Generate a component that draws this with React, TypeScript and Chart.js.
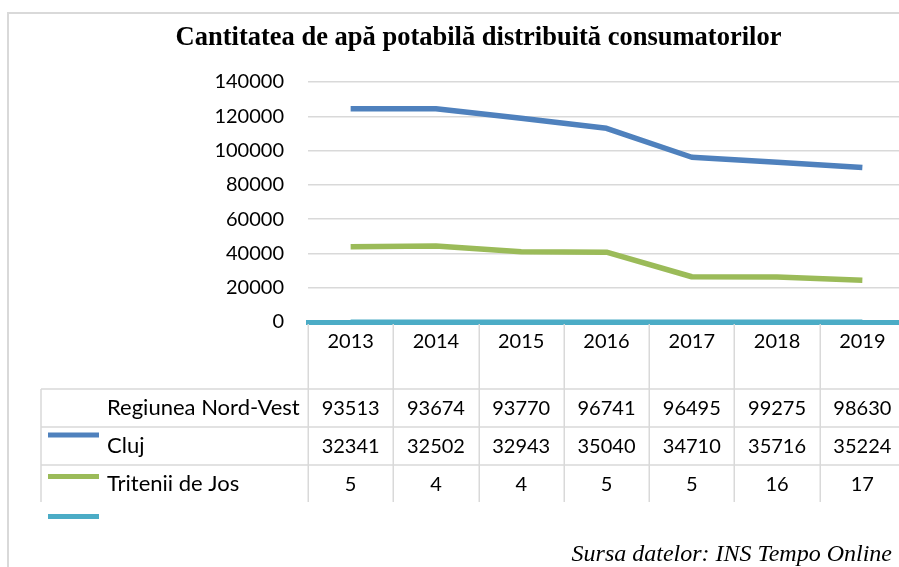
import { useEffect, useRef } from "react";
import { Chart, registerables } from "chart.js";

Chart.register(...registerables);

const chartTitle = "Cantitatea de apă potabilă distribuită consumatorilor";
const sourceNote = "Sursa datelor: INS Tempo Online";
const years = ["2013", "2014", "2015", "2016", "2017", "2018", "2019"];
const yMin = 0;
const yMax = 140000;
const yStep = 20000;

// lines as drawn in the picture
const blueLine = [124400, 124400, 118800, 113000, 96100, 93200, 90100];
const greenLine = [43900, 44300, 41000, 40700, 26400, 26300, 24300];

// data table values
const rowLabels = ["Regiunea Nord-Vest", "Cluj", "Tritenii de Jos"];
const tableNordVest = [93513, 93674, 93770, 96741, 96495, 99275, 98630];
const tableCluj = [32341, 32502, 32943, 35040, 34710, 35716, 35224];
const tableTritenii = [5, 4, 4, 5, 5, 16, 17];
const tableRows = [tableNordVest, tableCluj, tableTritenii];

const BLUE = "#4F81BD";
const GREEN = "#9BBB59";
const TEAL = "#4BACC6";
const GRID = "#d9d9d9";

const tablePlugin = {
  id: "dataTable",
  afterDraw(chart: any) {
    const { ctx, chartArea } = chart;
    const xs = chart.scales.x;
    const n = years.length;
    const colW = (chartArea.right - chartArea.left) / n;
    const base = chartArea.bottom;
    const rowTop = base + 67;
    const rowH = 38;
    const tableBottom = base + 180;
    const W = chart.width;

    ctx.save();
    // outer chart border
    ctx.strokeStyle = GRID;
    ctx.lineWidth = 2;
    ctx.beginPath();
    ctx.moveTo(8, chart.height);
    ctx.lineTo(8, 13);
    ctx.lineTo(W, 13);
    ctx.stroke();

    // table grid
    ctx.lineWidth = 1.5;
    ctx.beginPath();
    for (let i = 0; i <= n; i++) {
      const px = Math.round(chartArea.left + i * colW) + 0.25;
      ctx.moveTo(px, base + 2);
      ctx.lineTo(px, tableBottom);
    }
    ctx.moveTo(41, rowTop);
    ctx.lineTo(41, tableBottom);
    for (let r = 0; r < 3; r++) {
      const py = rowTop + r * rowH;
      ctx.moveTo(41, py);
      ctx.lineTo(W, py);
    }
    ctx.stroke();

    // category labels
    ctx.fillStyle = "#000";
    ctx.font = "20px Lato";
    ctx.textAlign = "center";
    ctx.textBaseline = "alphabetic";
    years.forEach((y, i) => {
      ctx.fillText(y, xs.getPixelForValue(i), base + 26);
    });

    // rows
    tableRows.forEach((row, r) => {
      const cy = rowTop + r * rowH + 18 + 7.5;
      ctx.textAlign = "left";
      ctx.font = "22px Lato";
      ctx.fillText(rowLabels[r], 107, cy);
      ctx.textAlign = "center";
      ctx.font = "20px Lato";
      row.forEach((v, i) => {
        ctx.fillText(String(v), xs.getPixelForValue(i), cy);
      });
    });

    // legend keys
    const keys = [
      { c: BLUE, y: base + 113 },
      { c: GREEN, y: base + 154.5 },
      { c: TEAL, y: base + 194.5 },
    ];
    keys.forEach((k) => {
      ctx.fillStyle = k.c;
      ctx.fillRect(48, k.y - 2.5, 51, 5);
    });

    // source note
    ctx.fillStyle = "#000";
    ctx.font = "italic 24px 'Liberation Serif'";
    ctx.textAlign = "right";
    ctx.fillText(sourceNote, 892, 561);
    ctx.restore();
  },
};

export default function App() {
  const canvasRef = useRef<HTMLCanvasElement | null>(null);

  useEffect(() => {
    const canvas = canvasRef.current;
    if (!canvas) return;
    const chart = new Chart(canvas, {
      type: "line",
      data: {
        labels: years,
        datasets: [
          {
            label: rowLabels[0],
            data: blueLine,
            borderColor: BLUE,
            backgroundColor: BLUE,
            borderWidth: 5.5,
            pointRadius: 0,
            borderJoinStyle: "round",
            tension: 0,
          },
          {
            label: rowLabels[1],
            data: greenLine,
            borderColor: GREEN,
            backgroundColor: GREEN,
            borderWidth: 5.5,
            pointRadius: 0,
            borderJoinStyle: "round",
            tension: 0,
          },
          {
            label: rowLabels[2],
            data: tableTritenii,
            borderColor: TEAL,
            backgroundColor: TEAL,
            borderWidth: 5,
            pointRadius: 0,
            tension: 0,
          },
        ],
      },
      options: {
        responsive: false,
        animation: false,
        devicePixelRatio: 1,
        layout: { padding: { top: 12, left: 52, right: 5, bottom: 245 } },
        plugins: {
          legend: { display: false },
          tooltip: { enabled: false },
          title: {
            display: true,
            text: chartTitle,
            color: "#000",
            font: { family: "'Liberation Serif'", size: 26.5, weight: "bold" },
            padding: { top: 10.5, bottom: 27.7 },
          },
        },
        scales: {
          x: {
            type: "category",
            offset: true,
            grid: { display: false, drawTicks: false },
            ticks: { display: false },
            border: { display: true, color: TEAL, width: 5 },
          },
          y: {
            min: yMin,
            max: yMax,
            afterFit: (scale: any) => {
              scale.width = 256;
            },
            ticks: {
              stepSize: yStep,
              padding: 24,
              color: "#000",
              font: { family: "Lato", size: 20 },
              callback: (v: any) => String(v),
            },
            grid: { color: GRID, lineWidth: 1.5, drawTicks: false },
            border: { display: false },
          },
        },
      },
      plugins: [tablePlugin],
    });
    return () => chart.destroy();
  }, []);

  return (
    <div
      style={{
        position: "absolute",
        left: 0,
        top: 0,
        width: 899,
        height: 567,
        overflow: "hidden",
        background: "#fff",
      }}
    >
      <canvas
        ref={canvasRef}
        width={910}
        height={567}
        style={{ width: 910, height: 567, display: "block" }}
      />
    </div>
  );
}
